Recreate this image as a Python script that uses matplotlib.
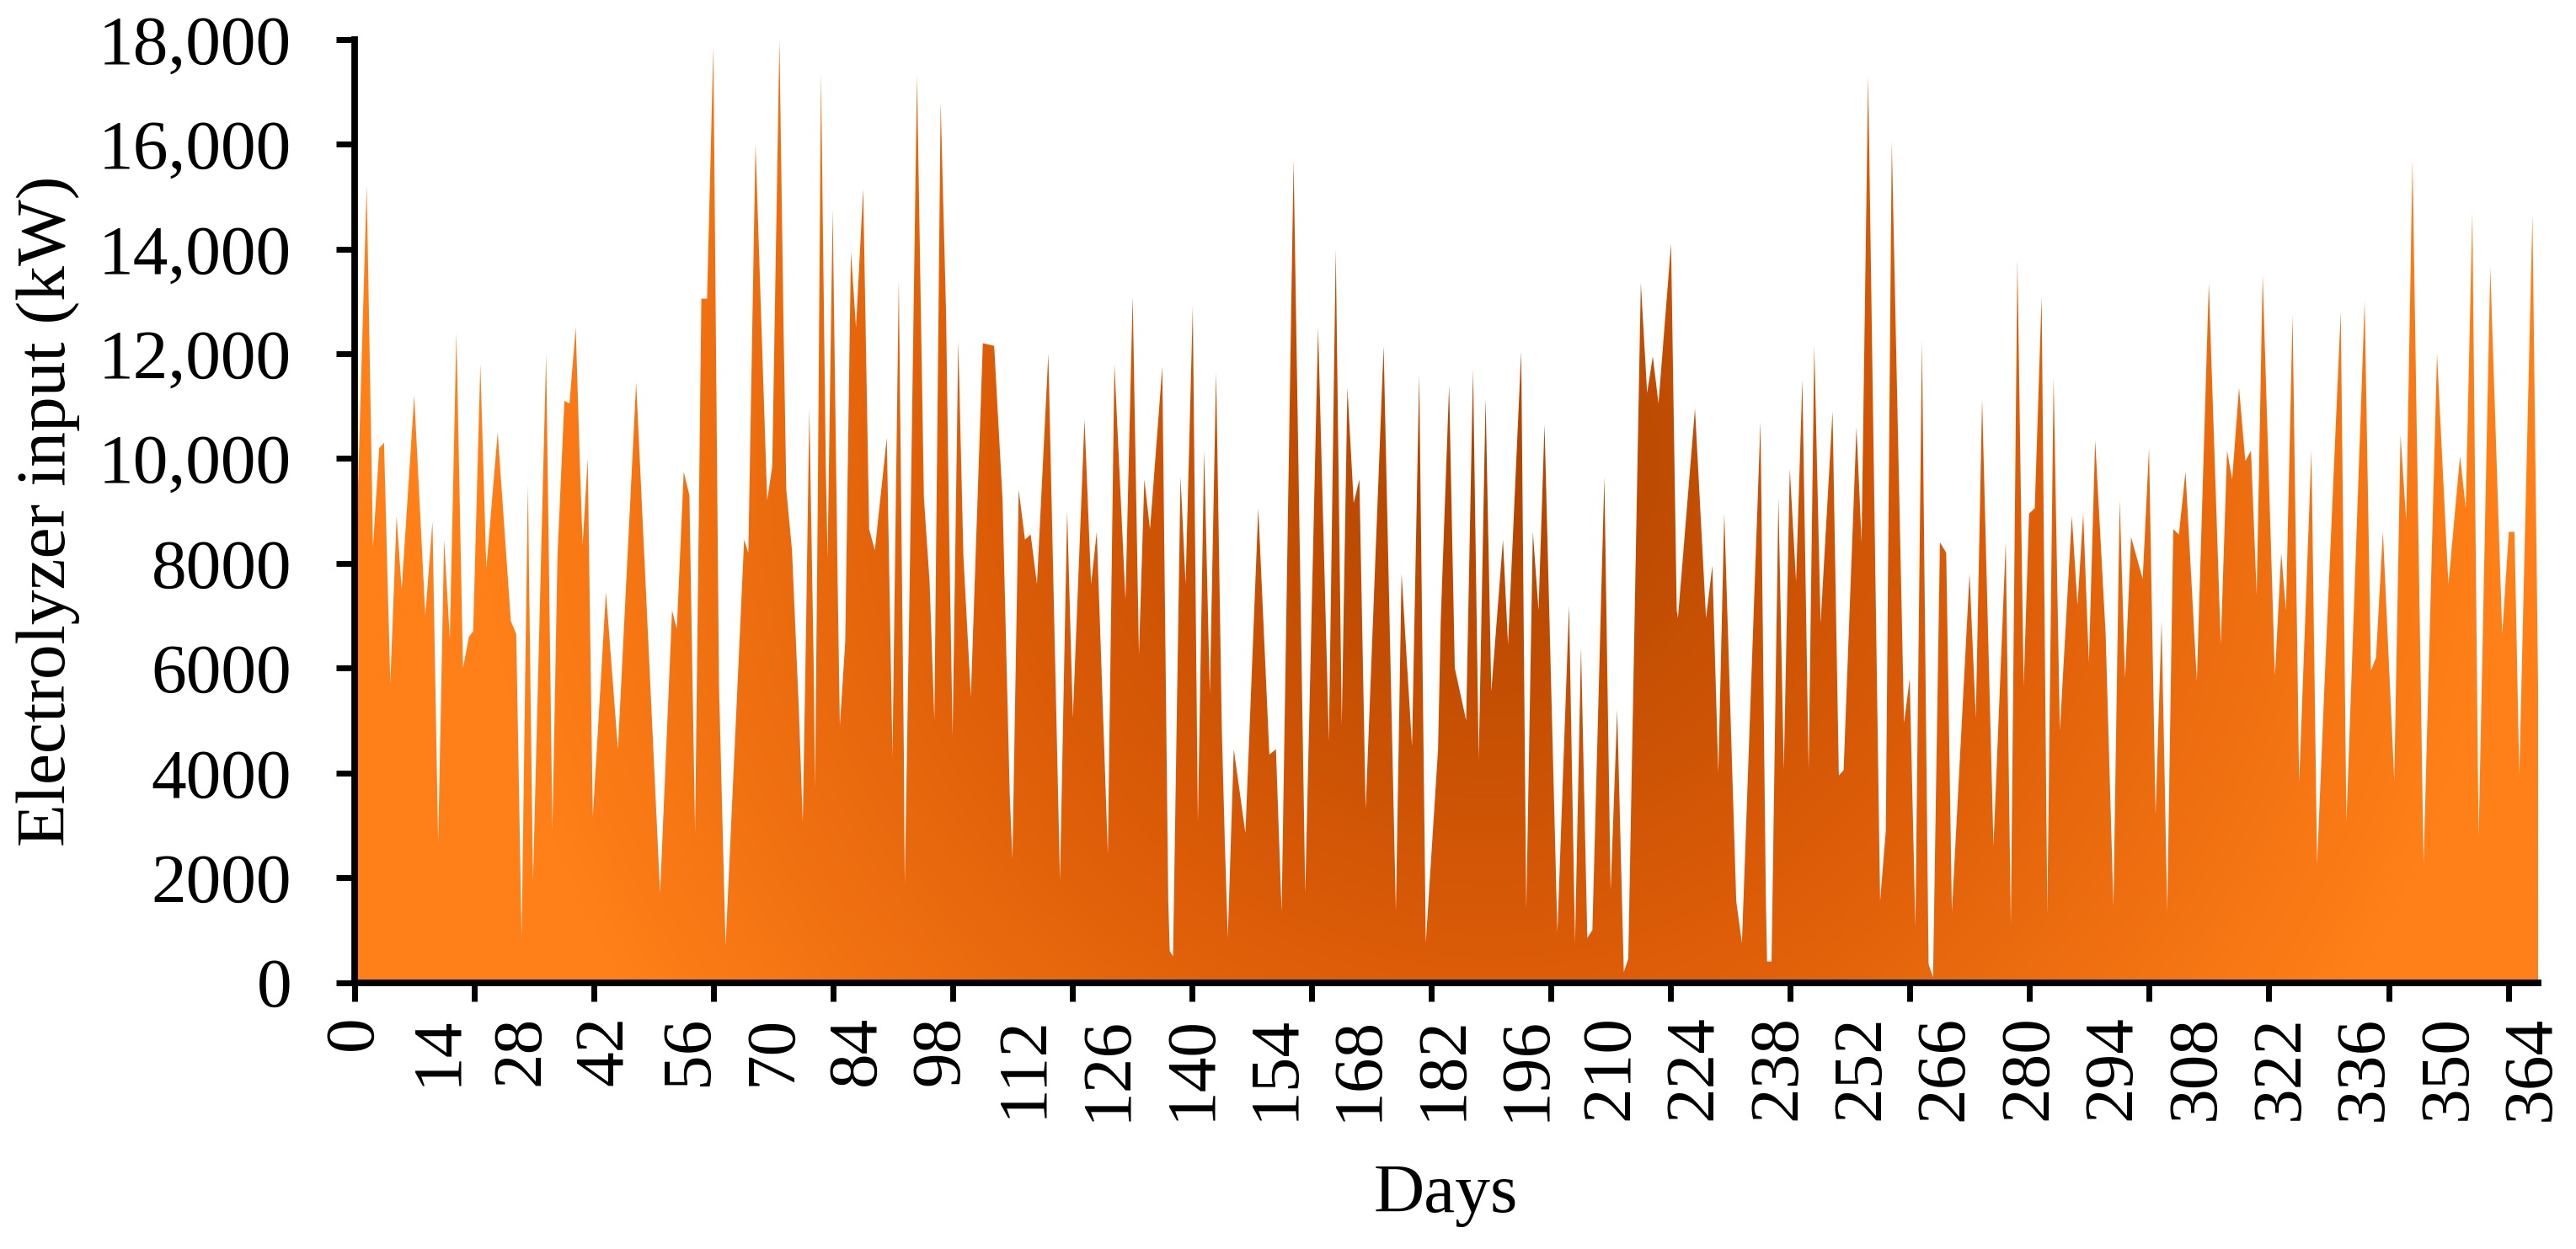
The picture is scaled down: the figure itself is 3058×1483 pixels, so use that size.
import numpy as np
import matplotlib
matplotlib.use("Agg")
import matplotlib.pyplot as plt
from matplotlib.colors import LinearSegmentedColormap

# turning points (day, kW)
days = [0.0, 2.0, 2.9, 3.05, 4.1, 4.9, 5.95, 7.0, 7.85, 9.95, 11.8, 13.0, 13.95, 14.95, 15.9,
        17.0, 18.1, 19.1, 19.8, 21.0, 22.0, 23.9, 26.1, 27.0, 27.9, 28.95, 29.8, 32.0, 33.05,
        33.9, 35.05, 35.9, 36.95, 37.65, 38.1, 38.95, 39.8, 42.0, 44.0, 47.05, 51.05, 53.05,
        53.85, 55.0, 55.95, 56.9, 57.95, 58.9, 59.95, 60.9, 62.0, 65.1, 65.8, 67.0, 68.95,
        69.8, 71.0, 71.7, 72.15, 73.1, 74.25, 74.9, 75.45, 76.0, 76.75, 76.95, 77.4, 77.95,
        78.75, 79.05, 79.9, 80.75, 81.1, 82.0, 82.95, 83.8, 85.0, 86.0, 86.95, 88.95, 89.75,
        89.9, 90.45, 90.95, 91.8, 91.95, 92.7, 94.0, 95.15, 96.1, 96.9, 97.95, 98.85, 99.4,
        99.95, 100.9, 101.75, 103.0, 105.0, 106.9, 108.3, 109.5, 109.95, 111.0, 112.05, 113.0,
        114.05, 115.95, 117.9, 119.1, 120.05, 122.0, 123.1, 124.05, 125.9, 127.0, 128.85,
        130.05, 131.1, 132.0, 132.95, 135.0, 136.0, 136.25, 136.8, 138.05, 138.9, 140.1,
        140.95, 142.0, 142.95, 144.0, 144.95, 145.45, 145.95, 146.95, 148.9, 151.05, 152.9,
        154.0, 154.95, 156.95, 158.9, 161.05, 162.85, 164.0, 165.0, 165.95, 167.0, 167.95,
        169.0, 172.0, 174.05, 175.0, 176.75, 177.95, 179.05, 181.1, 181.55, 182.95, 183.9,
        185.8, 186.95, 187.9, 189.05, 190.0, 191.95, 192.8, 195.0, 195.85, 196.95, 197.9,
        198.9, 201.05, 203.0, 204.0, 205.0, 206.05, 206.9, 208.9, 209.95, 211.05, 212.15,
        212.9, 215.0, 216.05, 217.0, 217.95, 220.05, 221.0, 221.2, 224.05, 225.9, 226.95,
        227.95, 228.95, 230.95, 231.9, 235.0, 235.9, 236.1, 236.85, 238.0, 238.9, 239.9,
        240.95, 242.0, 243.05, 244.0, 245.05, 247.05, 248.1, 248.9, 251.05, 251.9, 253.0,
        255.0, 255.95, 256.95, 259.0, 259.95, 260.9, 262.0, 263.1, 263.85, 265.0, 266.05,
        267.0, 269.95, 271.0, 272.05, 273.95, 276.0, 276.85, 277.95, 279.0, 279.9, 280.85,
        282.0, 282.95, 284.0, 285.05, 287.05, 288.0, 288.95, 289.9, 290.95, 292.7, 294.0,
        295.05, 295.95, 296.95, 298.9, 299.95, 301.05, 302.05, 303.0, 304.0, 304.95, 306.05,
        307.95, 309.95, 311.95, 313.0, 313.85, 315.0, 316.05, 317.0, 317.95, 318.95, 321.0,
        322.05, 322.85, 323.95, 325.05, 327.1, 328.05, 329.4, 332.0, 332.95, 336.0, 337.05,
        337.9, 339.05, 340.95, 342.0, 342.95, 344.0, 345.85, 348.1, 350.0, 351.95, 352.9,
        354.0, 355.05, 357.0, 359.0, 360.1, 361.05, 361.85, 364.05, 365.0]
power_kw = [7300, 15200, 9400, 8300, 10200, 10300, 5700, 8900, 7500, 11200, 7000, 8800, 2650,
            8450, 6550, 12400, 6000, 6600, 6700, 11800, 7900, 10500, 6900, 6650, 850, 9500,
            1900, 12000, 2900, 8150, 11100, 11050, 12500, 9850, 8350, 10000, 3150, 7450, 4450,
            11450, 1700, 7100, 6750, 9750, 9300, 2850, 13050, 13050, 17850, 5650, 700, 8450,
            8200, 16000, 9200, 9850, 18000, 12400, 9400, 8250, 5200, 3050, 6750, 10950, 5900,
            3700, 9000, 17350, 9850, 8100, 14750, 7500, 4900, 6500, 13950, 12500, 15150, 8650,
            8250, 10400, 5300, 4300, 9100, 13400, 4350, 1850, 7100, 17300, 9250, 7650, 5000,
            16800, 12800, 8400, 4700, 12250, 8150, 5450, 12200, 12150, 9200, 3600, 2350, 9400,
            8450, 8550, 7600, 12000, 1950, 9000, 5050, 10750, 7600, 8600, 2450, 11800, 7300,
            13100, 6250, 9600, 8650, 11750, 1550, 600, 500, 9650, 7600, 12900, 3050, 10150,
            5500, 11650, 4850, 2700, 850, 4450, 2850, 9050, 4350, 4450, 1350, 15700, 1700,
            12500, 4600, 14000, 4900, 11350, 9150, 9600, 3300, 12150, 1350, 7800, 4500, 11600,
            750, 4450, 6900, 11400, 6000, 5000, 11700, 4250, 11150, 5550, 8450, 6450, 12050,
            1400, 8600, 7100, 10650, 950, 7200, 750, 6400, 850, 1000, 9650, 1750, 5200, 200,
            450, 13350, 11250, 11950, 11050, 14100, 7100, 6950, 10950, 6950, 7950, 4000, 8950,
            1550, 750, 10700, 1600, 400, 400, 9250, 4050, 9800, 7650, 11500, 4050, 12150, 6850,
            10900, 3950, 4050, 10600, 8400, 17300, 1550, 2900, 16050, 4950, 5800, 1050, 12250,
            350, 100, 8400, 8200, 1350, 7800, 5050, 11150, 2600, 8400, 1100, 13800, 5650, 8950,
            9050, 13100, 1300, 11550, 4800, 8900, 7200, 8950, 6100, 10350, 6650, 1450, 9200,
            5800, 8500, 7700, 10200, 3200, 6900, 1350, 8650, 8550, 9750, 5750, 13350, 6450,
            10150, 9600, 11350, 9950, 10150, 7400, 13500, 5850, 8200, 7100, 12750, 3800, 10150,
            2250, 6000, 12800, 3050, 13000, 5950, 6200, 8600, 3850, 10450, 8800, 15700, 2250,
            12000, 7600, 10050, 9050, 14700, 2750, 13650, 6650, 8600, 8600, 3950, 14650, 5600]

label_days = list(range(0, 365, 14))
tick_days = list(range(0, 365, 20))
y_ticks = list(range(0, 18001, 2000))
y_labels = ["0", "2000", "4000", "6000", "8000", "10,000", "12,000", "14,000", "16,000", "18,000"]

plt.rcParams['font.family'] = ['Liberation Serif', 'DejaVu Serif']

fig = plt.figure(figsize=(15.29, 7.415), dpi=200)
ax = fig.add_axes([0.1377, 0.2134, 0.8476, 0.7551])

poly = ax.fill_between(days, power_kw, 0, facecolor='none', edgecolor='none')

# radial gradient, dark in the middle, bright orange at the edges
W, H = 2592, 1120
gx, gy = np.meshgrid(np.linspace(0, 1, 900), np.linspace(0, 1, 400))
r = np.hypot((gx - 0.52) * W, (gy - 0.55) * H) / np.hypot(W / 2, H / 2)
r = np.clip(r / 0.85, 0, 1)
cmap = LinearSegmentedColormap.from_list('orng', ['#B04400', '#DC5C08', '#FF8018'])
im = ax.imshow(r, cmap=cmap, vmin=0, vmax=1, origin='lower', aspect='auto',
               extent=[0, 365, 0, 18000], zorder=1, interpolation='bilinear')
im.set_clip_path(poly.get_paths()[0], transform=ax.transData)

ax.set_xlim(0, 365)
ax.set_ylim(0, 18000)

ax.spines['top'].set_visible(False)
ax.spines['right'].set_visible(False)
for s in ['left', 'bottom']:
    ax.spines[s].set_linewidth(2.8)
    ax.spines[s].set_zorder(5)

ax.set_yticks(y_ticks)
ax.set_yticklabels(y_labels)
ax.tick_params(axis='y', direction='out', length=8, width=2.5, pad=19, labelsize=30)

# tick marks every 20 days, labels every 14 days
ax.xaxis.remove_overlapping_locs = False
ax.set_xticks(tick_days)
ax.set_xticklabels([])
ax.set_xticks(label_days, minor=True)
ax.set_xticklabels([str(d) for d in label_days], minor=True, rotation=90)
ax.tick_params(axis='x', which='major', direction='out', length=8, width=2.5)
ax.tick_params(axis='x', which='minor', length=0, pad=14, labelsize=30)

fig.text(0.0187, 0.591, 'Electrolyzer input (kW)', rotation=90, fontsize=30,
         ha='center', va='center')
fig.text(0.5612, 0.043, 'Days', fontsize=30, ha='center', va='center')

fig.savefig('out.png', dpi=200)
